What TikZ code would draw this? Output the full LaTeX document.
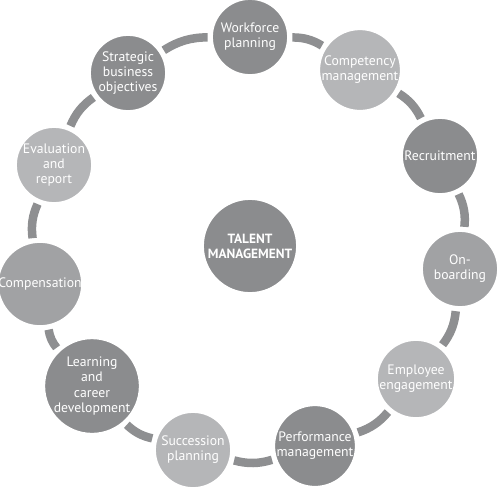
\documentclass[tikz,border=0pt]{standalone}
\usepackage{fontspec}
\setmainfont{PT Sans}
\usetikzlibrary{positioning}
\definecolor{darkg}{HTML}{8B8C8E}
\definecolor{midg}{HTML}{A1A2A4}
\definecolor{lightg}{HTML}{B5B6B8}
\definecolor{ringg}{HTML}{8E8F91}

\begin{document}
\begin{tikzpicture}[x=0.02cm, y=-0.02cm, font=\fontsize{7.8}{8.6}\selectfont]
\tikzstyle{stage}=[circle, draw=white, line width=1pt, text=white, align=center, minimum size=1.52cm, inner sep=0pt]
\tikzstyle{ring}=[draw=ringg, line width=0.17cm, shorten <=2pt, shorten >=2pt]
\useasboundingbox (0,0) rectangle (500,488);
\node[stage, fill=darkg] (wp) at (250,37) {Workforce\\planning};
\node[stage, fill=lightg] (cm) at (360,70) {Competency\\management};
\node[stage, fill=darkg] (rc) at (440,156) {Recruitment};
\node[stage, fill=midg] (ob) at (460,269) {On-\\boarding};
\node[stage, fill=lightg] (ee) at (416,379) {Employee\\engagement};
\node[stage, fill=darkg] (pm) at (315,446) {Performance\\management};
\node[stage, fill=lightg] (sp) at (193,450) {Succession\\planning};
\node[stage, fill=darkg] (lc) at (92,386) {Learning\\and\\career\\development};
\node[stage, fill=midg] (cp) at (40,284) {Compensation};
\node[stage, fill=lightg] (er) at (54,165) {Evaluation\\and\\report};
\node[stage, fill=darkg] (sb) at (128,73) {Strategic\\business\\objectives};
\node[stage, fill=darkg, minimum size=1.88cm, font=\fontsize{7.6}{8.6}\selectfont\bfseries] (tm) at (250,246) {TALENT\\MANAGEMENT};
\foreach \x/\y in {wp/cm,cm/rc,rc/ob,ob/ee,ee/pm,pm/sp,sp/lc,lc/cp,cp/er,er/sb,sb/wp}{\draw[ring] (\x) to[bend left=16] (\y);}
\end{tikzpicture}
\end{document}
